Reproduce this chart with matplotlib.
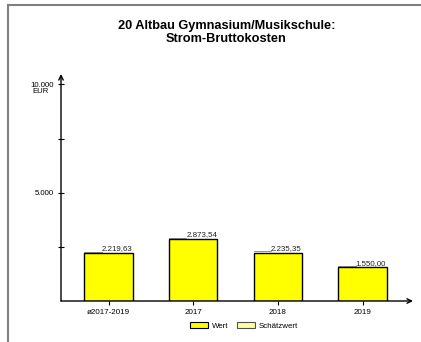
import matplotlib
matplotlib.use('Agg')
import matplotlib.pyplot as plt
from matplotlib.patches import Patch
from matplotlib.lines import Line2D

plt.rcParams['font.family'] = ['Liberation Sans', 'DejaVu Sans']

categories = ['ø2017-2019', '2017', '2018', '2019']
values = [2219.63, 2873.54, 2235.35, 1550.00]
value_labels = ['2.219,63', '2.873,54', '2.235,35', '1.550,00']

fig = plt.figure(figsize=(4.21, 3.42), dpi=100)
ax = fig.add_axes([61/421, 41/342, 352/421, 227/342])

x = list(range(len(categories)))
ax.bar(x, values, width=0.573, color='#ffff00', edgecolor='black', linewidth=1.0, zorder=2)

for xi, v, lab in zip(x, values, value_labels):
    ax.plot([xi - 0.2865, xi - 0.08], [v + 50, v + 50], color='#808080', lw=0.6, zorder=1)
    ax.text(xi - 0.08, v + 40, lab, fontsize=5.7, ha='left', va='bottom', color='#202020')

ax.set_xlim(-0.561, 3.596)
ax.set_ylim(0, 10480)
for s in ax.spines.values():
    s.set_visible(False)

ax.annotate('', xy=(0, 1), xytext=(0, 0), xycoords='axes fraction',
            arrowprops=dict(arrowstyle='->', lw=1, color='black', shrinkA=0, shrinkB=0,
                            mutation_scale=8))
ax.annotate('', xy=(1, 0), xytext=(0, 0), xycoords='axes fraction',
            arrowprops=dict(arrowstyle='->', lw=1, color='black', shrinkA=0, shrinkB=0,
                            mutation_scale=8))

ax.set_yticks([2500, 5000, 7500, 10000])
ax.set_yticklabels(['', '5.000', '', '10.000'])
ax.tick_params(axis='y', direction='inout', length=5, width=0.8, labelsize=5.6, pad=3)
ax.annotate('EUR', xy=(0, 10000), xycoords=ax.get_yaxis_transform(),
            xytext=(-8.5, -2.5), textcoords='offset points', fontsize=5.6,
            ha='right', va='top')

ax.set_xticks(x)
ax.set_xticklabels(categories)
ax.tick_params(axis='x', direction='out', length=3, width=0.8, labelsize=5.8, pad=3)

fig.text(226.5/421, 1 - 32.5/342, '20 Altbau Gymnasium/Musikschule:\nStrom-Bruttokosten',
         fontsize=9.2, fontweight='bold', ha='center', va='center', linespacing=1.15)

handles = [Patch(facecolor='#ffff00', edgecolor='black', linewidth=0.8),
           Patch(facecolor='#ffffa0', edgecolor='#505050', linewidth=0.8)]
fig.legend(handles, ['Wert', 'Schätzwert'], loc='center', bbox_to_anchor=(244/421, 1 - 326/342),
           ncol=2, frameon=False, fontsize=5.7, handlelength=2.3, handleheight=0.7,
           handletextpad=0.5, columnspacing=1.0)

fig.add_artist(Line2D([8/421, 8/421], [0, 1 - 5/342], color='#808080', lw=1.5))
fig.add_artist(Line2D([8/421, 1], [1 - 5/342, 1 - 5/342], color='#808080', lw=1.5))

fig.savefig('out.png', dpi=100)
